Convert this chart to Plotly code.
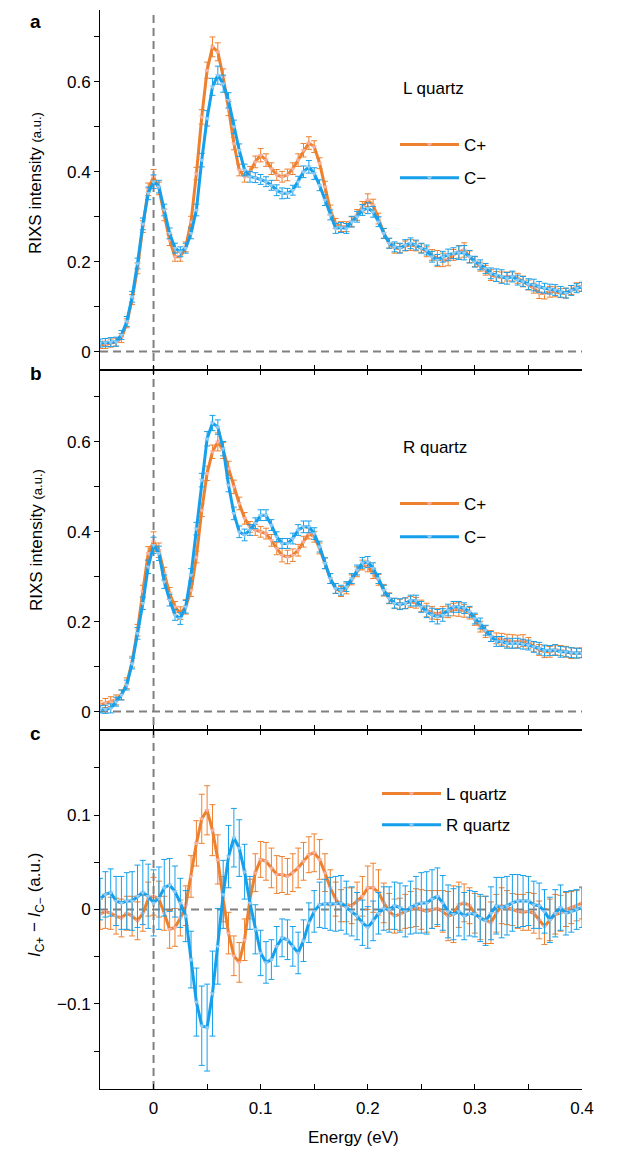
import plotly.graph_objects as go

# Energy grid (eV)
energy = [round(-0.05 + 0.005 * i, 3) for i in range(91)]

# Panel a: L quartz
a_cplus = [0.015,0.015,0.019,0.021,0.030,0.063,0.116,0.185,0.278,0.361,
           0.389,0.363,0.304,0.248,0.211,0.211,0.233,0.289,0.396,0.522,
           0.626,0.678,0.667,0.611,0.541,0.463,0.404,0.389,0.400,0.422,
           0.437,0.426,0.407,0.393,0.389,0.393,0.407,0.426,0.448,0.464,
           0.456,0.419,0.367,0.315,0.285,0.278,0.278,0.289,0.304,0.322,
           0.337,0.326,0.296,0.263,0.241,0.230,0.230,0.235,0.237,0.235,
           0.230,0.222,0.215,0.207,0.204,0.204,0.215,0.222,0.226,0.211,
           0.200,0.189,0.181,0.170,0.167,0.165,0.167,0.167,0.163,0.156,
           0.148,0.141,0.130,0.130,0.133,0.133,0.130,0.130,0.137,0.144,0.144]
a_cminus = [0.019,0.020,0.021,0.022,0.037,0.067,0.122,0.196,0.284,0.352,
            0.378,0.367,0.315,0.263,0.230,0.222,0.230,0.263,0.315,0.426,
            0.519,0.589,0.615,0.596,0.559,0.500,0.448,0.404,0.389,0.387,
            0.383,0.378,0.370,0.359,0.352,0.352,0.359,0.378,0.400,0.411,
            0.396,0.370,0.337,0.304,0.274,0.276,0.274,0.289,0.300,0.315,
            0.319,0.311,0.289,0.263,0.241,0.233,0.230,0.237,0.241,0.237,
            0.230,0.226,0.211,0.204,0.211,0.215,0.219,0.220,0.220,0.211,
            0.200,0.193,0.185,0.174,0.170,0.167,0.163,0.167,0.159,0.156,
            0.150,0.148,0.144,0.141,0.139,0.137,0.133,0.130,0.136,0.141,0.144]
a_cplus_err = [0.008,0.008,0.009,0.009,0.010,0.010,0.011,0.012,0.013,0.014,
               0.016,0.014,0.013,0.012,0.010,0.010,0.011,0.012,0.014,0.016,
               0.018,0.022,0.020,0.018,0.016,0.014,0.013,0.012,0.012,0.013,
               0.015,0.014,0.013,0.012,0.012,0.013,0.013,0.014,0.015,0.014,
               0.013,0.012,0.012,0.011,0.011,0.011,0.011,0.011,0.012,0.012,
               0.014,0.013,0.012,0.011,0.011,0.011,0.010,0.011,0.012,0.011,
               0.010,0.011,0.012,0.018,0.015,0.013,0.012,0.014,0.016,0.013,
               0.011,0.010,0.011,0.012,0.011,0.012,0.010,0.010,0.011,0.012,
               0.011,0.011,0.012,0.013,0.012,0.011,0.010,0.011,0.010,0.009,0.010]
a_cminus_err = [0.009,0.009,0.010,0.010,0.010,0.011,0.012,0.012,0.013,0.014,
                0.015,0.014,0.013,0.012,0.011,0.011,0.011,0.012,0.013,0.015,
                0.017,0.019,0.020,0.019,0.017,0.015,0.014,0.013,0.012,0.011,
                0.011,0.011,0.011,0.012,0.012,0.011,0.011,0.012,0.013,0.014,
                0.013,0.012,0.012,0.011,0.011,0.011,0.011,0.012,0.012,0.012,
                0.012,0.012,0.011,0.011,0.011,0.011,0.011,0.012,0.012,0.011,
                0.011,0.011,0.012,0.012,0.012,0.013,0.012,0.015,0.016,0.014,
                0.012,0.011,0.011,0.012,0.014,0.015,0.013,0.012,0.011,0.011,
                0.012,0.013,0.012,0.011,0.011,0.012,0.012,0.011,0.011,0.010,0.010]

# Panel b: R quartz
b_cplus = [0.015,0.019,0.022,0.026,0.037,0.063,0.111,0.181,0.267,0.352,
           0.378,0.359,0.307,0.263,0.233,0.219,0.233,0.270,0.344,0.448,
           0.530,0.578,0.600,0.581,0.541,0.500,0.463,0.430,0.411,0.404,
           0.400,0.396,0.381,0.363,0.348,0.344,0.348,0.359,0.378,0.396,
           0.389,0.363,0.330,0.296,0.274,0.267,0.274,0.293,0.311,0.326,
           0.322,0.307,0.293,0.270,0.252,0.241,0.239,0.241,0.244,0.242,
           0.235,0.226,0.220,0.217,0.222,0.222,0.227,0.227,0.224,0.219,
           0.204,0.189,0.178,0.168,0.163,0.161,0.158,0.156,0.156,0.158,
           0.153,0.144,0.137,0.133,0.133,0.137,0.136,0.133,0.130,0.130,0.131]
b_cminus = [0.005,0.005,0.007,0.022,0.037,0.059,0.107,0.174,0.241,0.322,
            0.370,0.352,0.289,0.248,0.215,0.207,0.233,0.304,0.407,0.515,
            0.607,0.642,0.633,0.585,0.504,0.441,0.400,0.393,0.404,0.419,
            0.437,0.437,0.415,0.389,0.374,0.374,0.385,0.404,0.411,0.411,
            0.396,0.367,0.330,0.296,0.274,0.270,0.278,0.296,0.315,0.331,
            0.333,0.319,0.296,0.270,0.252,0.241,0.239,0.241,0.247,0.247,
            0.233,0.222,0.215,0.211,0.215,0.226,0.233,0.233,0.230,0.222,
            0.207,0.196,0.181,0.167,0.156,0.156,0.152,0.152,0.152,0.150,
            0.148,0.144,0.141,0.136,0.136,0.137,0.133,0.133,0.131,0.130,0.130]
b_cplus_err = [0.009,0.010,0.011,0.011,0.011,0.012,0.012,0.013,0.014,0.015,
               0.022,0.016,0.014,0.013,0.012,0.014,0.016,0.014,0.013,0.014,
               0.016,0.015,0.020,0.018,0.016,0.015,0.014,0.013,0.012,0.012,
               0.012,0.012,0.013,0.014,0.015,0.015,0.014,0.013,0.012,0.012,
               0.012,0.012,0.012,0.011,0.011,0.011,0.012,0.011,0.011,0.011,
               0.011,0.011,0.012,0.013,0.012,0.011,0.011,0.012,0.012,0.012,
               0.013,0.015,0.014,0.012,0.012,0.013,0.014,0.015,0.014,0.013,
               0.012,0.012,0.013,0.012,0.012,0.013,0.014,0.015,0.014,0.013,
               0.012,0.011,0.012,0.013,0.012,0.011,0.011,0.012,0.012,0.011,0.011]
b_cminus_err = [0.008,0.009,0.010,0.010,0.011,0.011,0.012,0.013,0.014,0.015,
                0.018,0.016,0.015,0.013,0.012,0.013,0.014,0.014,0.014,0.015,
                0.016,0.017,0.016,0.016,0.015,0.014,0.013,0.013,0.012,0.012,
                0.012,0.012,0.012,0.011,0.011,0.011,0.012,0.012,0.013,0.013,
                0.013,0.012,0.012,0.011,0.011,0.011,0.011,0.011,0.011,0.012,
                0.012,0.012,0.011,0.011,0.011,0.011,0.012,0.012,0.012,0.012,
                0.012,0.013,0.015,0.016,0.014,0.013,0.012,0.012,0.012,0.012,
                0.012,0.012,0.011,0.011,0.011,0.011,0.011,0.011,0.011,0.011,
                0.011,0.012,0.013,0.012,0.011,0.012,0.012,0.011,0.011,0.011,0.010]

# Panel c: difference I_C+ - I_C-
c_left = [-0.005,-0.002,-0.004,-0.007,-0.009,-0.004,-0.007,-0.012,-0.004,0.011,
          0.014,0.011,-0.004,-0.021,-0.019,-0.009,0.004,0.035,0.070,0.096,
          0.105,0.084,0.053,0.011,-0.025,-0.049,-0.056,-0.032,0.011,0.039,
          0.053,0.051,0.044,0.037,0.037,0.035,0.039,0.044,0.051,0.058,
          0.060,0.053,0.039,0.023,0.011,0.004,0.005,0.004,0.009,0.014,
          0.023,0.023,0.018,0.007,-0.002,-0.007,-0.005,-0.002,0.000,0.002,
          0.000,-0.002,0.000,0.001,-0.002,-0.007,-0.005,0.005,0.007,0.004,
          -0.004,-0.009,-0.011,-0.014,-0.004,0.004,0.002,0.000,-0.002,-0.003,
          -0.002,-0.004,-0.011,-0.018,-0.011,-0.005,-0.004,0.000,0.002,0.004,0.007]
c_right = [0.011,0.016,0.018,0.009,0.007,0.009,0.009,0.014,0.018,0.014,
           0.007,0.012,0.023,0.026,0.019,0.007,-0.007,-0.053,-0.098,-0.123,
           -0.125,-0.089,-0.039,0.016,0.056,0.076,0.065,0.040,0.007,-0.021,
           -0.046,-0.056,-0.053,-0.039,-0.030,-0.032,-0.039,-0.046,-0.033,-0.014,
           -0.002,0.005,0.006,0.006,0.006,0.007,0.002,-0.002,-0.007,-0.014,
           -0.019,-0.012,-0.004,0.001,0.000,0.004,0.002,-0.002,0.002,0.005,
           0.007,0.007,0.011,0.014,0.007,-0.002,-0.005,-0.002,-0.007,-0.004,
           -0.005,-0.009,-0.012,-0.004,0.004,0.002,0.004,0.007,0.009,0.009,
           0.009,0.005,0.004,-0.002,-0.011,-0.004,0.002,-0.004,-0.002,0.000,0.002]
c_left_err = [0.016,0.018,0.017,0.019,0.020,0.018,0.021,0.020,0.019,0.018,
              0.020,0.019,0.018,0.020,0.020,0.019,0.021,0.022,0.024,0.026,
              0.026,0.027,0.026,0.024,0.022,0.021,0.021,0.022,0.021,0.020,
              0.019,0.020,0.021,0.020,0.019,0.019,0.020,0.021,0.020,0.019,
              0.020,0.021,0.020,0.019,0.018,0.017,0.018,0.019,0.020,0.021,
              0.023,0.026,0.024,0.021,0.019,0.018,0.017,0.018,0.019,0.020,
              0.021,0.022,0.020,0.019,0.022,0.026,0.030,0.024,0.020,0.019,
              0.021,0.023,0.025,0.022,0.020,0.019,0.018,0.017,0.018,0.019,
              0.020,0.021,0.020,0.019,0.022,0.021,0.019,0.018,0.017,0.016,0.017]
c_right_err = [0.022,0.024,0.025,0.026,0.028,0.030,0.031,0.033,0.034,0.034,
               0.035,0.033,0.030,0.028,0.027,0.026,0.027,0.030,0.036,0.042,
               0.046,0.045,0.040,0.036,0.033,0.031,0.030,0.029,0.028,0.026,
               0.024,0.022,0.021,0.021,0.020,0.021,0.021,0.022,0.022,0.021,
               0.022,0.024,0.026,0.028,0.029,0.029,0.028,0.026,0.025,0.024,
               0.022,0.021,0.022,0.023,0.024,0.025,0.026,0.027,0.028,0.030,
               0.032,0.033,0.031,0.030,0.029,0.028,0.027,0.026,0.025,0.024,
               0.024,0.025,0.026,0.028,0.030,0.032,0.031,0.030,0.028,0.027,
               0.026,0.025,0.024,0.023,0.024,0.025,0.024,0.023,0.022,0.021,0.021]

# Tick labels
x_tickvals = [-0.05, 0, 0.05, 0.1, 0.15, 0.2, 0.25, 0.3, 0.35, 0.4]
x_ticktext = ["", "0", "", "0.1", "", "0.2", "", "0.3", "", "0.4"]
y_ab_tickvals = [0, 0.1, 0.2, 0.3, 0.4, 0.5, 0.6, 0.7]
y_ab_ticktext = ["0", "", "0.2", "", "0.4", "", "0.6", ""]
y_c_tickvals = [-0.15, -0.1, -0.05, 0, 0.05, 0.1, 0.15]
y_c_ticktext = ["", "\u22120.1", "", "0", "", "0.1", ""]

ORANGE = "#EE812F"
BLUE = "#16A0EC"
ORANGE_MK = "rgba(247,178,168,0.95)"
BLUE_MK = "rgba(150,206,246,0.95)"
FONT = "Liberation Sans, Arial, Helvetica, sans-serif"

fig = go.Figure()


def add_series(y, err, color, mk, name, xa, ya, legend, group):
    fig.add_trace(go.Scatter(
        x=energy, y=y, mode="lines+markers", name=name,
        xaxis=xa, yaxis=ya, legend=legend, legendgroup=group,
        line=dict(color=color, width=3),
        marker=dict(symbol="triangle-down", size=5, color=mk, line=dict(width=0)),
        error_y=dict(type="data", array=err, color=color, thickness=1, width=3),
    ))


add_series(a_cplus, a_cplus_err, ORANGE, ORANGE_MK, "C+", "x", "y", "legend", "a1")
add_series(a_cminus, a_cminus_err, BLUE, BLUE_MK, "C\u2212", "x", "y", "legend", "a2")
add_series(b_cplus, b_cplus_err, ORANGE, ORANGE_MK, "C+", "x2", "y2", "legend2", "b1")
add_series(b_cminus, b_cminus_err, BLUE, BLUE_MK, "C\u2212", "x2", "y2", "legend2", "b2")
add_series(c_left, c_left_err, ORANGE, ORANGE_MK, "L quartz", "x3", "y3", "legend3", "c1")
add_series(c_right, c_right_err, BLUE, BLUE_MK, "R quartz", "x3", "y3", "legend3", "c2")

# page offset of the body (8px default margin) is compensated in the margins
H_TOTAL = 1079.0
dom_c = [0, 359 / H_TOTAL]
dom_b = [359 / H_TOTAL, 719 / H_TOTAL]
dom_a = [719 / H_TOTAL, 1]

xbase = dict(range=[-0.05, 0.4], showline=True, linecolor="black", linewidth=1,
             ticks="inside", ticklen=5, tickcolor="black", tickvals=x_tickvals,
             showgrid=False, zeroline=False,
             tickfont=dict(family=FONT, size=17, color="black"))
ybase = dict(showline=True, linecolor="black", linewidth=1, ticks="outside",
             ticklen=5, tickcolor="black", showgrid=False, zeroline=False,
             tickfont=dict(family=FONT, size=17, color="black"))

fig.update_layout(
    width=627, height=1155,
    margin=dict(l=92, r=53, t=2, b=74),
    paper_bgcolor="white", plot_bgcolor="white",
    font=dict(family=FONT, size=17, color="black"),
    xaxis=dict(xbase, anchor="y", showticklabels=False),
    xaxis2=dict(xbase, anchor="y2", matches="x", showticklabels=False, mirror="ticks"),
    xaxis3=dict(xbase, anchor="y3", matches="x", showticklabels=True, mirror="ticks",
                ticktext=x_ticktext, ticklabelstandoff=4),
    yaxis=dict(ybase, anchor="x", domain=dom_a, range=[-0.041, 0.76],
               tickvals=y_ab_tickvals, ticktext=y_ab_ticktext),
    yaxis2=dict(ybase, anchor="x2", domain=dom_b, range=[-0.041, 0.76],
                tickvals=y_ab_tickvals, ticktext=y_ab_ticktext),
    yaxis3=dict(ybase, anchor="x3", domain=dom_c, range=[-0.19, 0.19],
                tickvals=y_c_tickvals, ticktext=y_c_ticktext),
)

leg = dict(bgcolor="rgba(0,0,0,0)", borderwidth=0, itemwidth=59,
           font=dict(family=FONT, size=17, color="black"),
           xanchor="left", yanchor="top", tracegroupgap=8, traceorder="grouped")
fig.update_layout(
    legend=dict(leg, x=(395 - 100) / 482, y=1 - 117 / H_TOTAL),
    legend2=dict(leg, x=(395 - 100) / 482, y=1 - 476 / H_TOTAL),
    legend3=dict(leg, x=(377 - 100) / 482, y=1 - 766 / H_TOTAL, tracegroupgap=6),
)

# Reference dashed lines
dash_style = dict(color="#808080", width=2, dash="8px,5px")
fig.add_shape(type="line", xref="x", yref="paper", x0=0, x1=0, y0=0, y1=1,
              line=dash_style, layer="below")
for ya, xd in [("y", "x domain"), ("y2", "x2 domain"), ("y3", "x3 domain")]:
    fig.add_shape(type="line", xref=xd, yref=ya, x0=0, x1=1, y0=0, y1=0,
                  line=dash_style, layer="below")


def ann(text, x, y, size=17, bold=False, angle=0, xanchor="left", yanchor="middle"):
    fig.add_annotation(text=("<b>%s</b>" % text) if bold else text, xref="paper", yref="paper",
                       x=x, y=y, showarrow=False, textangle=angle, xanchor=xanchor,
                       yanchor=yanchor, font=dict(family=FONT, size=size, color="black"))


def px_x(px):
    return (px - 100) / 482.0


def px_y(py):
    return 1 - (py - 10) / H_TOTAL


ann("a", px_x(28), px_y(8.5), size=19, bold=True, yanchor="top")
ann("b", px_x(28), px_y(373), size=19, bold=True)
ann("c", px_x(28), px_y(733), size=19, bold=True)
ann("L quartz", px_x(401), px_y(88))
ann("R quartz", px_x(401), px_y(447))
ann("RIXS intensity <span style='font-size:13px'>(a.u.)</span>", px_x(36), px_y(183),
    angle=-90, xanchor="center")
ann("RIXS intensity <span style='font-size:13px'>(a.u.)</span>", px_x(36), px_y(540),
    angle=-90, xanchor="center")
ann("<i>I</i><sub>C+</sub> \u2212 <i>I</i><sub>C\u2212</sub> (a.u.)", px_x(36), px_y(905),
    angle=-90, xanchor="center")
ann("Energy (eV)", px_x(353), px_y(1137), xanchor="center")

fig.write_html("out.html")
